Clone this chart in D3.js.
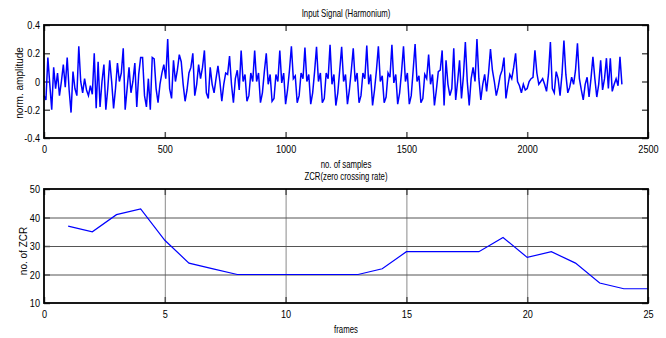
<!DOCTYPE html>
<html>
<head>
<meta charset="utf-8">
<script src="https://cdn.jsdelivr.net/npm/d3@7"></script>
<style>
  body { margin: 0; background: #fff; }
  svg text { font-family: "Liberation Sans", Arial, sans-serif; fill: #000; }
</style>
</head>
<body>
<svg id="chart" width="666" height="338"></svg>
<script>
// input signal, one value every SIGNAL_STEP samples
const SIGNAL_STEP = 8;
const signal = [
  -0.10, -0.13, 0.17, -0.02, -0.20, 0.10, -0.05, 0.06, -0.10, 0.00,   // 0
  0.12, -0.04, 0.17, -0.06, -0.22, 0.07, -0.05, -0.10, 0.25, 0.00,     // 10
  -0.08, 0.02, -0.06, -0.10, -0.03, -0.09, 0.20, -0.19, 0.14, -0.18,   // 20
  0.00, 0.12, -0.20, -0.05, 0.15, 0.00, -0.19, -0.05, 0.13, 0.00,      // 30
  0.06, 0.235, -0.20, -0.05, 0.10, -0.08, 0.00, 0.13, -0.18, 0.05,     // 40
  0.17, 0.17, -0.10, -0.18, 0.02, -0.20, 0.17, 0.16, -0.05, -0.15,     // 50
  -0.02, 0.06, 0.12, 0.02, 0.30, -0.05, -0.12, 0.15, 0.00, 0.08,       // 60
  0.19, 0.14, -0.02, -0.14, -0.06, 0.06, 0.10, 0.20, -0.10, -0.02,     // 70
  0.12, 0.02, 0.10, 0.22, -0.08, -0.12, 0.10, -0.02, -0.08, 0.02,      // 80
  0.11, 0.00, -0.14, -0.02, 0.06, 0.05, 0.18, -0.02, -0.15, 0.02,      // 90
  0.08, -0.06, 0.22, 0.00, 0.05, -0.14, -0.10, 0.06, 0.00, 0.22,       // 100
  0.00, 0.06, -0.15, -0.08, 0.07, 0.20, -0.02, 0.05, -0.14, -0.12,     // 110
  0.05, 0.00, 0.22, -0.01, 0.06, -0.16, -0.06, 0.08, 0.25, 0.02,       // 120
  0.04, -0.15, -0.10, 0.06, 0.02, 0.24, 0.00, 0.05, -0.16, -0.08,      // 130
  0.07, 0.245, 0.00, 0.06, -0.15, -0.12, 0.06, 0.02, 0.26, -0.02,      // 140
  0.05, -0.17, -0.08, 0.08, 0.245, 0.00, 0.05, -0.16, -0.06, 0.08,     // 150
  0.235, 0.00, 0.06, -0.15, -0.10, 0.06, 0.02, 0.255, -0.02, 0.05,     // 160
  -0.17, -0.06, 0.08, 0.25, 0.00, 0.04, -0.15, -0.11, 0.06, 0.03,      // 170
  0.26, -0.01, 0.05, -0.16, -0.08, 0.07, 0.25, 0.00, 0.06, -0.16,      // 180
  -0.10, 0.08, 0.265, 0.00, 0.04, -0.15, -0.12, 0.05, 0.02, 0.19,      // 190
  -0.02, 0.05, -0.17, -0.06, 0.07, 0.08, 0.22, -0.17, 0.15, -0.02,     // 200
  -0.10, -0.05, 0.235, -0.13, 0.00, 0.15, -0.12, 0.04, 0.28, 0.00,     // 210
  -0.17, 0.02, 0.10, 0.00, 0.30, 0.02, -0.13, -0.02, 0.05, -0.07,      // 220
  0.06, 0.23, 0.08, 0.00, -0.10, -0.04, 0.04, 0.08, 0.17, -0.12,       // 230
  -0.03, 0.05, 0.02, 0.10, 0.20, 0.00, -0.03, -0.08, -0.02, -0.06,     // 240
  -0.05, 0.00, 0.02, 0.03, 0.22, 0.06, -0.02, 0.00, 0.02, -0.02,       // 250
  -0.07, 0.05, 0.28, -0.05, -0.08, 0.07, 0.02, -0.10, 0.05, 0.29,      // 260
  0.05, -0.08, -0.04, 0.03, -0.02, 0.08, 0.27, 0.02, -0.06, -0.13,     // 270
  -0.02, 0.03, -0.11, 0.02, 0.175, 0.02, -0.11, -0.02, 0.15, -0.06,    // 280
  0.02, 0.165, -0.05, 0.165, -0.07, -0.02, 0.02, -0.03, 0.175, -0.02   // 290
];

// zero crossing rate per frame
const frames = d3.range(1, 26);
const zcr = [37, 35, 41, 43, 32, 24, 22, 20, 20, 20, 20, 20, 20, 22, 28,
             28, 28, 28, 33, 26, 28, 24, 17, 15, 15];

const sampleTicks = [0, 500, 1000, 1500, 2000, 2500];
const ampTicks = [-0.4, -0.2, 0, 0.2, 0.4];
const frameTicks = [0, 5, 10, 15, 20, 25];
const zcrTicks = [10, 20, 30, 40, 50];

const LEFT = 44, RIGHT = 648;
const TICK = 6;
const TICK_SX = 0.83;   // narrow font look for tick labels
const LABEL_SX = 0.78;  // ... and for titles / x labels
const svg = d3.select('#chart');

function drawAxes(x, y, xt, yt, grid)
{
    const [y0, y1] = y.range();
    const g = svg.append('g');

    if (grid) {
        g.append('g').selectAll('line')
          .data(xt.slice(1, -1))
          .join('line')
          .attr('x1', d => x(d) + 0.5).attr('x2', d => x(d) + 0.5)
          .attr('y1', y1).attr('y2', y0)
          .attr('stroke', '#8a8a8a');
        g.append('g').selectAll('line')
          .data(yt.slice(1, -1))
          .join('line')
          .attr('x1', LEFT).attr('x2', RIGHT)
          .attr('y1', d => y(d) + 0.5).attr('y2', d => y(d) + 0.5)
          .attr('stroke', '#555');
    }

    const fmt = d => String(d);
    const style = a => a
      .call(s => s.select('.domain').remove())
      .call(s => s.selectAll('.tick line').attr('stroke', '#555').attr('stroke-width', 1.5))
      .call(s => s.selectAll('.tick text')
                  .attr('font-size', 11).attr('font-family', null)
                  .each(function () {
                      const t = d3.select(this);
                      t.attr('x', (+t.attr('x') || 0) / TICK_SX)
                       .attr('transform', `scale(${TICK_SX},1)`);
                  }));

    g.append('g').attr('transform', `translate(0,${y0})`)
      .call(d3.axisBottom(x).tickValues(xt).tickSize(-TICK).tickPadding(7).tickFormat(fmt))
      .call(style);
    g.append('g').attr('transform', `translate(0,${y1})`)
      .call(d3.axisTop(x).tickValues(xt).tickSize(-TICK).tickFormat(''))
      .call(style);
    g.append('g').attr('transform', `translate(${LEFT},0)`)
      .call(d3.axisLeft(y).tickValues(yt).tickSize(-TICK).tickPadding(4).tickFormat(fmt))
      .call(style);
    g.append('g').attr('transform', `translate(${RIGHT},0)`)
      .call(d3.axisRight(y).tickValues(yt).tickSize(-TICK).tickFormat(''))
      .call(style);

    return g;
}

function drawBox(y)
{
    const [y0, y1] = y.range();
    svg.append('rect')
      .attr('x', LEFT).attr('y', y1)
      .attr('width', RIGHT - LEFT).attr('height', y0 - y1)
      .attr('fill', 'none')
      .attr('stroke', '#000')
      .attr('stroke-width', 1.8);
}

// --- top: input signal
const x1 = d3.scaleLinear().domain([0, 2500]).range([LEFT, RIGHT]);
const y1 = d3.scaleLinear().domain([-0.4, 0.4]).range([138, 25]);

drawAxes(x1, y1, sampleTicks, ampTicks, false);

svg.append('path')
  .datum(signal)
  .attr('fill', 'none')
  .attr('stroke', '#0000ff')
  .attr('stroke-width', 1.5)
  .attr('d', d3.line()
    .x((d, i) => x1(i * SIGNAL_STEP))
    .y(d => y1(d)));

drawBox(y1);

// --- bottom: zcr
const x2 = d3.scaleLinear().domain([0, 25]).range([LEFT, RIGHT]);
const y2 = d3.scaleLinear().domain([10, 50]).range([303, 189]);

drawAxes(x2, y2, frameTicks, zcrTicks, true);

svg.append('path')
  .datum(zcr)
  .attr('fill', 'none')
  .attr('stroke', '#0000ff')
  .attr('stroke-width', 1.2)
  .attr('d', d3.line()
    .x((d, i) => x2(frames[i]))
    .y(d => y2(d)));

drawBox(y2);

// --- labels
const mid = (LEFT + RIGHT) / 2;
const label = (txt, x, y) => svg.append('text')
  .attr('transform', `translate(${x},${y}) scale(${LABEL_SX},1)`)
  .attr('text-anchor', 'middle')
  .attr('font-size', 10)
  .text(txt);
const ylabel = (txt, x, y) => svg.append('text')
  .attr('transform', `translate(${x},${y}) rotate(-90)`)
  .attr('text-anchor', 'middle')
  .attr('font-size', 10)
  .text(txt);

label('Input Signal (Harmonium)', mid, 16.5);
label('no. of samples', mid, 168);
label('ZCR(zero crossing rate)', mid, 179.5);
label('frames', mid, 333);
ylabel('norm. amplitude', 23, 83);
ylabel('no. of ZCR', 26.5, 251);
</script>
</body>
</html>
